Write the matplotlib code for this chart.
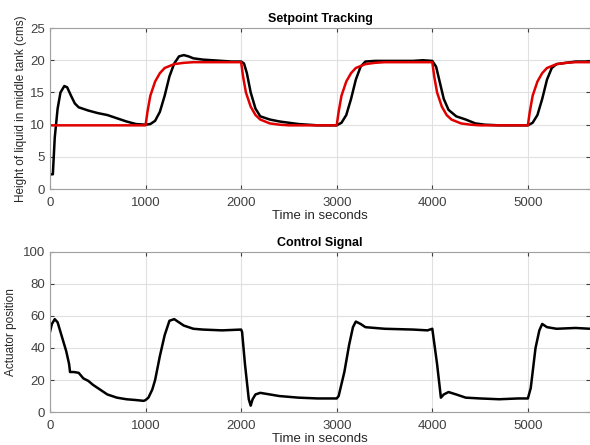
"""
Setpoint tracking and control signal of the middle tank level loop.
"""

import matplotlib.pyplot as plt

# tank level (measured) - time in s, height in cm
level_t = [0, 30, 50, 80, 110, 150, 180, 220, 260, 300, 400, 500, 600, 700, 800, 900,
           1000, 1050, 1100, 1150, 1200, 1250, 1300, 1350, 1400, 1450, 1500, 1600, 1700,
           1800, 1900, 2000, 2030, 2060, 2100, 2150, 2200, 2300, 2400, 2500, 2600, 2700,
           2800, 2900, 3000, 3050, 3100, 3150, 3200, 3250, 3300, 3400, 3500, 3600, 3700,
           3800, 3900, 4000, 4040, 4080, 4120, 4170, 4250, 4350, 4450, 4550, 4700, 4850,
           5000, 5050, 5100, 5150, 5200, 5250, 5300, 5400, 5500, 5650]
level_h = [2.3, 2.3, 8.0, 12.5, 15.0, 16.0, 15.8, 14.5, 13.3, 12.7, 12.2, 11.8, 11.5, 11.0,
           10.5, 10.1, 10.0, 10.1, 10.6, 12.0, 14.5, 17.5, 19.5, 20.6, 20.8, 20.6, 20.3,
           20.1, 20.0, 19.9, 19.8, 19.8, 19.5, 18.0, 15.0, 12.5, 11.3, 10.8, 10.5, 10.3,
           10.1, 10.0, 9.9, 9.9, 9.9, 10.3, 11.5, 14.0, 17.0, 19.0, 19.8, 19.9, 19.9, 19.9,
           19.9, 19.9, 20.0, 19.9, 19.0, 16.5, 14.0, 12.3, 11.3, 10.8, 10.2, 10.0, 9.9, 9.9,
           9.9, 10.3, 11.5, 14.0, 17.0, 18.8, 19.4, 19.6, 19.8, 19.8]

# reference trajectory (filtered setpoint)
ref_t = [0, 1000, 1020, 1050, 1100, 1150, 1200, 1300, 1400, 1500, 2000, 2020, 2050, 2100,
         2150, 2200, 2300, 2400, 2500, 3000, 3020, 3050, 3100, 3150, 3200, 3300, 3400,
         3500, 4000, 4020, 4050, 4100, 4150, 4200, 4300, 4400, 4500, 5000, 5020, 5050,
         5100, 5150, 5200, 5300, 5400, 5500, 5650]
ref_h = [9.9, 9.9, 12.0, 14.5, 16.7, 18.0, 18.8, 19.4, 19.6, 19.7, 19.7, 17.5, 15.0, 12.8,
         11.5, 10.8, 10.2, 10.0, 9.9, 9.9, 12.0, 14.5, 16.7, 18.0, 18.8, 19.4, 19.6, 19.7,
         19.7, 17.5, 15.0, 12.8, 11.5, 10.8, 10.2, 10.0, 9.9, 9.9, 12.0, 14.5, 16.7, 18.0,
         18.8, 19.4, 19.6, 19.7, 19.7]

# actuator position
act_t = [0, 20, 50, 80, 120, 170, 200, 210, 250, 300, 350, 400, 450, 500, 550, 600, 700,
         800, 900, 980, 1000, 1030, 1070, 1100, 1150, 1200, 1250, 1300, 1350, 1400, 1500,
         1600, 1800, 2000, 2010, 2040, 2080, 2100, 2120, 2150, 2200, 2300, 2400, 2500,
         2600, 2800, 3000, 3020, 3080, 3130, 3170, 3200, 3250, 3300, 3500, 3800, 3950,
         4000, 4050, 4090, 4120, 4170, 4250, 4350, 4500, 4700, 4900, 5000, 5030, 5080,
         5120, 5150, 5200, 5300, 5500, 5650]
act_u = [50, 55, 58, 56, 48, 38, 30, 25, 25, 24.5, 21, 19.5, 17, 15, 13, 11, 9, 8, 7.5, 7,
         7.5, 9, 14, 20, 35, 48, 57, 58, 56, 54, 52, 51.5, 51, 51.5, 50, 30, 8, 4, 8, 11,
         12, 11, 10, 9.5, 9, 8.5, 8.5, 10, 25, 42, 53, 56.5, 55, 53, 52, 51.5, 51, 52, 30,
         9, 11, 12.5, 11, 9, 8.5, 8, 8.5, 8.5, 15, 40, 51, 55, 53, 52, 52.5, 52]

plt.rcParams['font.family'] = ['Liberation Sans', 'DejaVu Sans']

fig = plt.figure(figsize=(5.9, 4.45), dpi=100)
ax1 = fig.add_axes([0.0847, 0.575, 0.9153, 0.362])
ax2 = fig.add_axes([0.0847, 0.074, 0.9153, 0.360])

ax1.plot(level_t, level_h, color='black', lw=1.8)
ax1.plot(ref_t, ref_h, color='#e00000', lw=1.8)
ax1.set_ylim(0, 25)
ax1.set_yticks([0, 5, 10, 15, 20, 25])
ax1.set_title('Setpoint Tracking', fontsize=9, fontweight='bold', pad=4)
ax1.set_ylabel('Height of liquid in middle tank (cms)', fontsize=8.5, color='#262626', labelpad=2)

ax2.plot(act_t, act_u, color='black', lw=1.8)
ax2.set_ylim(0, 100)
ax2.set_yticks([0, 20, 40, 60, 80, 100])
ax2.set_title('Control Signal', fontsize=9, fontweight='bold', pad=4)
ax2.set_ylabel('Actuator position', fontsize=8.5, color='#262626', labelpad=4)

for ax in (ax1, ax2):
    ax.set_xlim(0, 5650)
    ax.set_xticks([0, 1000, 2000, 3000, 4000, 5000])
    ax.set_xlabel('Time in seconds', fontsize=9.5, color='#262626', labelpad=1)
    ax.grid(True, color='#e0e0e0', lw=0.8)
    ax.set_axisbelow(True)
    ax.tick_params(direction='in', length=3, labelsize=9.5, colors='#404040',
                   top=True, right=True)
    ax.tick_params(axis='x', pad=5.5)
    for s in ax.spines.values():
        s.set_color('#a0a0a0')
        s.set_linewidth(0.8)

plt.savefig('out.png', dpi=100)
plt.close()
